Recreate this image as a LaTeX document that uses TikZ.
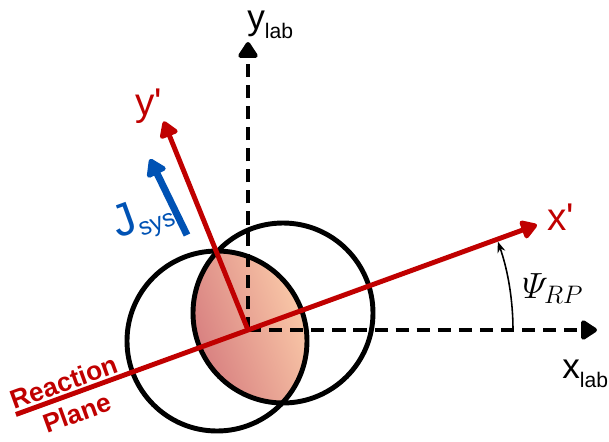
\documentclass[tikz,border=0pt]{standalone}
\usepackage{amsmath}
\usepackage{fontspec}
\setmainfont{Liberation Sans}
\usepackage{tikz}
\usetikzlibrary{arrows.meta,calc}
\definecolor{rojo}{RGB}{192,0,0}
\definecolor{azul}{RGB}{0,82,180}
\definecolor{rosaosc}{RGB}{212,120,124}
\definecolor{rosacla}{RGB}{253,208,172}

\begin{document}
\begin{tikzpicture}[
  eje/.style={line width=2.8pt, dash pattern=on 7.5pt off 4.5pt,
              -{Triangle[length=3.6mm, width=4.4mm, round]}},
  prima/.style={line width=2.8pt, draw=rojo,
                -{Triangle[length=3.6mm, width=4.2mm, round, fill=rojo]}},
  nucleo/.style={line width=2.8pt, draw=black},
  etiq/.style={font=\fontsize{20}{24}\selectfont, inner sep=0pt,
               anchor=base west},
  plano/.style={font=\fontsize{15}{18}\selectfont\bfseries, text=rojo,
                rotate=20, inner sep=0pt}]
  \useasboundingbox (-4.96,-2.22) rectangle (7.22,6.6);
  \coordinate (O)  at (0,0);
  \coordinate (cI) at (-0.62,-0.22);
  \coordinate (cD) at (0.70,0.34);
  % zona de solapamiento
  \begin{scope}
    \clip (cI) circle (1.8);
    \clip (cD) circle (1.8);
    \shade[top color=rosacla, bottom color=rosaosc, shading angle=-70]
      (-1.2,-1.6) rectangle (1.3,1.7);
  \end{scope}
  \draw[nucleo] (cI) circle (1.8);
  \draw[nucleo] (cD) circle (1.8);
  % ejes del laboratorio
  \coordinate (xlab) at (6.98,0);
  \coordinate (ylab) at (0,5.76);
  \draw[eje] (O) -- (xlab);
  \draw[eje] (O) -- (ylab);
  % plano de reaccion
  \coordinate (rp)  at (200:4.94);
  \coordinate (xp)  at (20:6.15);
  \coordinate (yp)  at (112:4.5);
  \draw[prima] (rp) -- (xp);
  \draw[prima] (O) -- (yp);
  \coordinate (jA) at (-1.22,1.90);
  \coordinate (jB) at (-1.96,3.42);
  \draw[line width=4pt, azul,
        -{Triangle[length=3.8mm, width=4.6mm, round]}] (jA) -- (jB);
  \coordinate (arc0) at (5.3,0);
  \draw[line width=0.9pt, -{Stealth[length=2.2mm, width=1.6mm]}]
     (arc0) arc[start angle=0, end angle=19.5, radius=5.3];
  \node[etiq, text=rojo, font=\fontsize{22}{26}\selectfont] (lxp)
     at (5.98,2.0) {x\textquotesingle};
  \node[etiq, text=rojo, font=\fontsize{22}{26}\selectfont] (lyp)
     at (-2.26,4.3) {y\textquotesingle};
  \node[etiq] (lxl) at (6.28,-0.96)
     {x\raisebox{-0.18cm}{\fontsize{12}{14}\selectfont lab}};
  \node[etiq] (lyl) at (-0.02,6.02)
     {y\raisebox{-0.18cm}{\fontsize{12}{14}\selectfont lab}};
  \node[etiq, anchor=center, rotate=20, text=azul,
        font=\fontsize{26}{30}\selectfont] (ljs) at (-2.1,2.22)
     {J\raisebox{-0.12cm}{\fontsize{14}{16}\selectfont sys}};
  \node[etiq, font=\fontsize{21}{24}\selectfont] (lpsi) at (5.48,0.64)
     {$\varPsi_{RP}$};
  \node[plano] (lre) at (-3.68,-1.04) {Reaction};
  \node[plano] (lpl) at (-3.42,-1.66) {Plane};
\end{tikzpicture}
\end{document}
